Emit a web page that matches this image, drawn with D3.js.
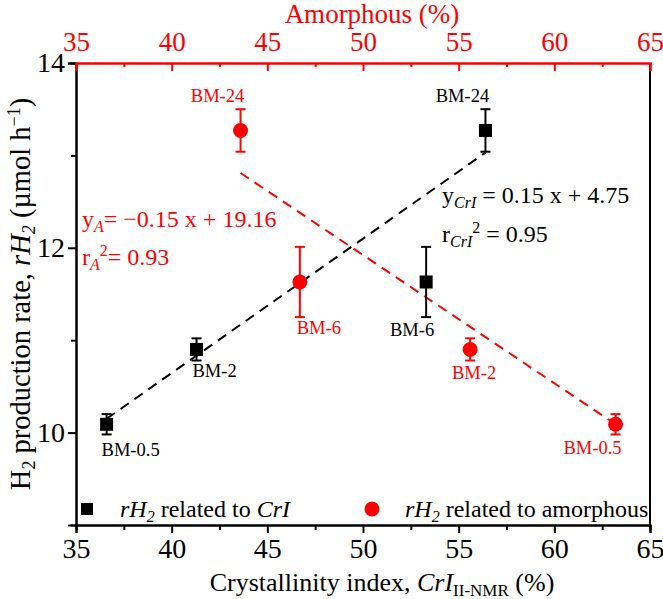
<!DOCTYPE html>
<html><head><meta charset="utf-8">
<script src="https://cdn.jsdelivr.net/npm/d3@7"></script>
<style>
body{margin:0;background:#fff;}
svg, svg text{font-family:"Liberation Serif","Times New Roman",Tinos,"DejaVu Serif",serif !important;}
</style></head>
<body><svg id="chart" width="663" height="599"></svg>
<script>
// ---- data ----
const sampleLabels = ["BM-0.5", "BM-2", "BM-6", "BM-24"];
const crystallinity = [36.6, 41.3, 53.3, 56.4];      // bottom axis, CrI (%)
const amorphous = [63.2, 55.6, 46.7, 43.6];         // top axis, amorphous (%)
const rH2 = [10.09, 10.9, 11.63, 13.27];            // µmol h-1
const rH2Err = [0.11, 0.12, 0.38, 0.23];
const fitCrIX = [36.6, 56.4];
const fitCrIY = [10.15, 13.03];
const fitAX = [43.6, 63.2];
const fitAY = [12.81, 10.09];
const xTicks = [35, 40, 45, 50, 55, 60, 65];
const xMinorTicks = [37.5, 42.5, 47.5, 52.5, 57.5, 62.5];
const yTicks = [10, 12, 14];
const yMinorTicks = [11, 13];

const FONT = "'Liberation Serif','Times New Roman',Tinos,'DejaVu Serif',serif";
const RED = "#ff0000";
const svg = d3.select("#chart").attr("font-family", FONT);
const L = 76, R = 650, T = 63, B = 525;
const x = d3.scaleLinear().domain([35, 65]).range([L, R]);
const xTop = d3.scaleLinear().domain([35, 65]).range([L, R]);
const y = d3.scaleLinear().domain([9, 14]).range([B, T]);

// axes
const gB = svg.append("g").attr("transform", `translate(0,${B})`)
  .call(d3.axisBottom(x).tickValues(xTicks).tickSize(8).tickPadding(5).tickFormat(d3.format("d")));
const gBm = svg.append("g").attr("transform", `translate(0,${B})`)
  .call(d3.axisBottom(x).tickValues(xMinorTicks).tickSize(5).tickFormat(""));
const gL = svg.append("g").attr("transform", `translate(${L},0)`)
  .call(d3.axisLeft(y).tickValues(yTicks).tickSize(8).tickPadding(3).tickFormat(d3.format("d")));
const gLm = svg.append("g").attr("transform", `translate(${L},0)`)
  .call(d3.axisLeft(y).tickValues(yMinorTicks).tickSize(5).tickFormat(""));
const gT = svg.append("g").attr("transform", `translate(0,${T})`)
  .call(d3.axisTop(xTop).tickValues(xTicks).tickSize(-8).tickPadding(12).tickFormat(d3.format("d")));
const gTm = svg.append("g").attr("transform", `translate(0,${T})`)
  .call(d3.axisTop(xTop).tickValues(xMinorTicks).tickSize(-4).tickFormat(""));
[gB, gBm, gL, gLm].forEach(g => {
  g.select(".domain").attr("stroke", "#000").attr("stroke-width", 2);
  g.selectAll(".tick line").attr("stroke", "#000").attr("stroke-width", 2);
  g.selectAll("text").attr("font-size", 28).attr("fill", "#000");
});
[gT, gTm].forEach(g => {
  g.select(".domain").attr("stroke", RED).attr("stroke-width", 2);
  g.selectAll(".tick line").attr("stroke", RED).attr("stroke-width", 2);
  g.selectAll("text").attr("font-size", 27).attr("fill", RED);
});
[gB, gBm, gL, gLm, gT, gTm].forEach(g => g.attr("font-family", FONT));
// right border
svg.append("line").attr("x1", R).attr("x2", R).attr("y1", T).attr("y2", B)
  .attr("stroke", "#000").attr("stroke-width", 2);
gT.raise(); gTm.raise();

// fit lines
const lineGen = d3.line().x(d => d[0]).y(d => d[1]);
svg.append("path").attr("d", lineGen(fitCrIX.map((v, i) => [x(v), y(fitCrIY[i])])))
  .attr("stroke", "#000").attr("stroke-width", 2).attr("stroke-dasharray", "10,7").attr("fill", "none");
svg.append("path").attr("d", lineGen(fitAX.map((v, i) => [xTop(v), y(fitAY[i])])))
  .attr("stroke", RED).attr("stroke-width", 2).attr("stroke-dasharray", "10,7").attr("fill", "none");

// error bars + markers
function errBars(xs, sc, color) {
  const g = svg.append("g").attr("stroke", color).attr("stroke-width", 2);
  xs.forEach((v, i) => {
    const cx = sc(v), y1 = y(rH2[i] + rH2Err[i]), y2 = y(rH2[i] - rH2Err[i]);
    g.append("line").attr("x1", cx).attr("x2", cx).attr("y1", y1).attr("y2", y2);
    g.append("line").attr("x1", cx - 5).attr("x2", cx + 5).attr("y1", y1).attr("y2", y1);
    g.append("line").attr("x1", cx - 5).attr("x2", cx + 5).attr("y1", y2).attr("y2", y2);
  });
}
errBars(crystallinity, x, "#000");
errBars(amorphous, xTop, RED);
svg.append("g").selectAll("rect").data(crystallinity).join("rect")
  .attr("x", d => x(d) - 6.5).attr("y", (d, i) => y(rH2[i]) - 6.5)
  .attr("width", 13).attr("height", 13).attr("fill", "#000");
svg.append("g").selectAll("circle").data(amorphous).join("circle")
  .attr("cx", d => xTop(d)).attr("cy", (d, i) => y(rH2[i])).attr("r", 7.5).attr("fill", RED);

// point labels (offsets relative to data points)
const blackOff = [[24, 32], [18, 28], [-14, 54], [-23, -28]];
const redOff = [[-23, 30], [4, 30], [19, 52], [-23, -28]];
sampleLabels.forEach((s, i) => {
  svg.append("text").attr("x", x(crystallinity[i]) + blackOff[i][0]).attr("y", y(rH2[i]) + blackOff[i][1])
    .attr("text-anchor", "middle").attr("font-size", 18.5).attr("fill", "#000").text(s);
  svg.append("text").attr("x", xTop(amorphous[i]) + redOff[i][0]).attr("y", y(rH2[i]) + redOff[i][1])
    .attr("text-anchor", "middle").attr("font-size", 18.5).attr("fill", RED).text(s);
});

// equations
const EQ = 24, SUB = 16;
const eqA = svg.append("text").attr("x", 82).attr("y", 227).attr("font-size", EQ).attr("fill", RED);
eqA.append("tspan").text("y");
eqA.append("tspan").attr("font-style", "italic").attr("font-size", SUB).attr("dy", 5).text("A");
eqA.append("tspan").attr("dy", -5).text("= \u22120.15 x + 19.16");
const rA = svg.append("text").attr("x", 82).attr("y", 265).attr("font-size", EQ).attr("fill", RED);
rA.append("tspan").text("r");
rA.append("tspan").attr("font-style", "italic").attr("font-size", SUB).attr("dy", 5).text("A");
rA.append("tspan").attr("font-size", SUB).attr("dy", -14).text("2");
rA.append("tspan").attr("dy", 9).text("= 0.93");

const eqC = svg.append("text").attr("x", 442).attr("y", 203).attr("font-size", EQ).attr("fill", "#000");
eqC.append("tspan").text("y");
eqC.append("tspan").attr("font-style", "italic").attr("font-size", SUB).attr("dy", 5).text("CrI");
eqC.append("tspan").attr("dy", -5).text(" = 0.15 x + 4.75");
const rC = svg.append("text").attr("x", 442).attr("y", 242).attr("font-size", EQ).attr("fill", "#000");
rC.append("tspan").text("r");
rC.append("tspan").attr("font-style", "italic").attr("font-size", SUB).attr("dy", 5).text("CrI");
rC.append("tspan").attr("font-size", SUB).attr("dy", -14).text("2");
rC.append("tspan").attr("dy", 9).text(" = 0.95");

// legend
svg.append("rect").attr("x", 81).attr("y", 503).attr("width", 12).attr("height", 12).attr("fill", "#000");
const lg1 = svg.append("text").attr("x", 120).attr("y", 517).attr("font-size", 24).attr("fill", "#000");
lg1.append("tspan").attr("font-style", "italic").text("rH");
lg1.append("tspan").attr("font-style", "italic").attr("font-size", 16).attr("dy", 5).text("2");
lg1.append("tspan").attr("dy", -5).text(" related to ");
lg1.append("tspan").attr("font-style", "italic").text("CrI");
svg.append("circle").attr("cx", 372).attr("cy", 509).attr("r", 7.5).attr("fill", RED);
const lg2 = svg.append("text").attr("x", 405).attr("y", 517).attr("font-size", 24).attr("fill", "#000");
lg2.append("tspan").attr("font-style", "italic").text("rH");
lg2.append("tspan").attr("font-style", "italic").attr("font-size", 16).attr("dy", 5).text("2");
lg2.append("tspan").attr("dy", -5).text(" related to amorphous");

// axis titles
const xt = svg.append("text").attr("x", 382).attr("y", 591).attr("text-anchor", "middle").attr("font-size", 26).attr("fill", "#000");
xt.append("tspan").text("Crystallinity index, ");
xt.append("tspan").attr("font-style", "italic").text("CrI");
xt.append("tspan").attr("font-size", 17).attr("dy", 5).text("II-NMR");
xt.append("tspan").attr("dy", -5).text(" (%)");

svg.append("text").attr("x", 372).attr("y", 23).attr("text-anchor", "middle")
  .attr("font-size", 27).attr("fill", RED).text("Amorphous (%)");

const yt = svg.append("text").attr("transform", `translate(30,${(T + B) / 2}) rotate(-90)`)
  .attr("text-anchor", "middle").attr("font-size", 28.5).attr("fill", "#000");
yt.append("tspan").text("H");
yt.append("tspan").attr("font-size", 18).attr("dy", 5).text("2");
yt.append("tspan").attr("dy", -5).text(" production rate, ");
yt.append("tspan").attr("font-style", "italic").text("rH");
yt.append("tspan").attr("font-style", "italic").attr("font-size", 18).attr("dy", 5).text("2");
yt.append("tspan").attr("dy", -5).text(" (\u00b5mol h");
yt.append("tspan").attr("font-size", 18).attr("dy", -10).text("\u22121");
yt.append("tspan").attr("dy", 10).text(")");
</script></body></html>
